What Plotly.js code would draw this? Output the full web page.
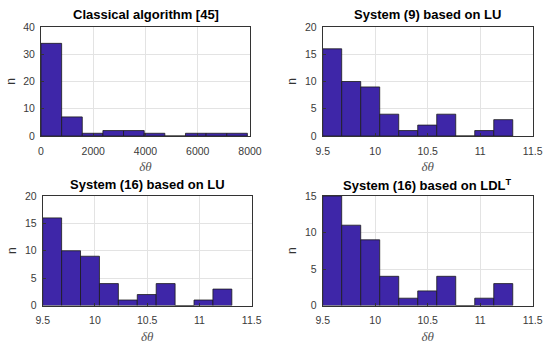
<!DOCTYPE html>
<html>
<head>
<meta charset="utf-8">
<script src="https://cdn.plot.ly/plotly-3.0.1.min.js"></script>
<style>html,body{margin:0;padding:0;background:#fff;}#chart{width:550px;height:344px;}</style>
</head>
<body>
<div id="chart"></div>
<script>
// ---- data ----
const titles = ["Classical algorithm [45]", "System (9) based on LU", "System (16) based on LU", "System (16) based on LDL<sup>T</sup>"];
const classicalBinStart = 0;
const classicalBinWidth = 790;
const classicalCounts = [34, 7, 1, 2, 2, 1, 0, 1, 1, 1];
const systemBinStart = 9.5;
const systemBinWidth = 0.181;
const sys9LUCounts = [16, 10, 9, 4, 1, 2, 4, 0, 1, 3];
const sys16LUCounts = [16, 10, 9, 4, 1, 2, 4, 0, 1, 3];
const sys16LDLCounts = [15, 11, 9, 4, 1, 2, 4, 0, 1, 3];
const classicalXTicks = [0, 2000, 4000, 6000, 8000];
const systemXTicks = [9.5, 10, 10.5, 11, 11.5];

// ---- helpers ----
function centers(start, w, n) { return Array.from({length: n}, (_, i) => start + w * (i + 0.5)); }
function barTrace(start, w, counts, xa, ya) {
  return {
    type: 'bar', x: centers(start, w, counts.length), y: counts,
    width: Array(counts.length).fill(w), xaxis: xa, yaxis: ya,
    marker: {color: '#3E26A8', line: {color: '#1c1c1c', width: 0.8}},
    showlegend: false, hoverinfo: 'x+y'
  };
}

const data = [
  barTrace(classicalBinStart, classicalBinWidth, classicalCounts, 'x', 'y'),
  barTrace(systemBinStart, systemBinWidth, sys9LUCounts, 'x2', 'y2'),
  barTrace(systemBinStart, systemBinWidth, sys16LUCounts, 'x3', 'y3'),
  barTrace(systemBinStart, systemBinWidth, sys16LDLCounts, 'x4', 'y4')
];

const W = 550, H = 344;
const tickFont = {family: 'Arial, Liberation Sans, sans-serif', size: 10.5, color: '#3a3a3a'};
function xax(dom, anchor, range, tickvals) {
  return {
    domain: dom, anchor: anchor, range: range, tickvals: tickvals,
    showgrid: true, gridcolor: '#e3e3e3', gridwidth: 1,
    showline: true, linecolor: '#333333', linewidth: 1, mirror: true,
    ticks: 'inside', ticklen: 3, tickcolor: '#333333', ticklabelstandoff: 5,
    tickfont: tickFont, zeroline: false, fixedrange: true,
    title: {text: 'δθ', font: {family: 'Liberation Serif, DejaVu Serif, serif', size: 13, color: '#555555', style: 'italic'}, standoff: 6}
  };
}
function yax(dom, anchor, range, dtick) {
  return {
    domain: dom, anchor: anchor, range: range, dtick: dtick, tick0: 0,
    showgrid: true, gridcolor: '#e3e3e3', gridwidth: 1,
    showline: true, linecolor: '#333333', linewidth: 1, mirror: true,
    ticks: 'inside', ticklen: 3, tickcolor: '#333333', ticklabelstandoff: 3,
    tickfont: tickFont, zeroline: false, fixedrange: true,
    title: {text: 'n', font: {family: 'Arial, Liberation Sans, sans-serif', size: 12, color: '#333333'}, standoff: 5}
  };
}
function px(a, b) { return [a / W, b / W]; }
function py(top, bot) { return [1 - bot / H, 1 - top / H]; }

const layout = {
  width: W, height: H,
  margin: {l: 0, r: 0, t: 0, b: 0},
  paper_bgcolor: '#ffffff', plot_bgcolor: '#ffffff',
  bargap: 0,
  xaxis: xax(px(41, 250), 'y', [0, 8000], classicalXTicks),
  yaxis: yax(py(27, 136), 'x', [0, 40], 10),
  xaxis2: xax(px(322.7, 532.7), 'y2', [9.5, 11.5], systemXTicks),
  yaxis2: yax(py(27, 136), 'x2', [0, 20], 5),
  xaxis3: xax(px(42.7, 251.7), 'y3', [9.5, 11.5], systemXTicks),
  yaxis3: yax(py(196, 305.5), 'x3', [0, 20], 5),
  xaxis4: xax(px(322.7, 532.7), 'y4', [9.5, 11.5], systemXTicks),
  yaxis4: yax(py(196, 305.5), 'x4', [0, 15], 5),
  annotations: [
    [titles[0], (41 + 250) / 2, 15],
    [titles[1], (322.7 + 532.7) / 2, 15],
    [titles[2], (42.7 + 251.7) / 2, 185],
    [titles[3], (322.7 + 532.7) / 2, 185]
  ].map(([t, cx, cy]) => ({
    text: t, xref: 'paper', yref: 'paper', x: cx / W, y: 1 - cy / H,
    xanchor: 'center', yanchor: 'middle', showarrow: false,
    font: {family: 'Arial, Liberation Sans, sans-serif', size: 13, color: '#000000', weight: 'bold'}
  }))
};

Plotly.newPlot('chart', data, layout, {displayModeBar: false, staticPlot: true});
</script>
</body>
</html>
